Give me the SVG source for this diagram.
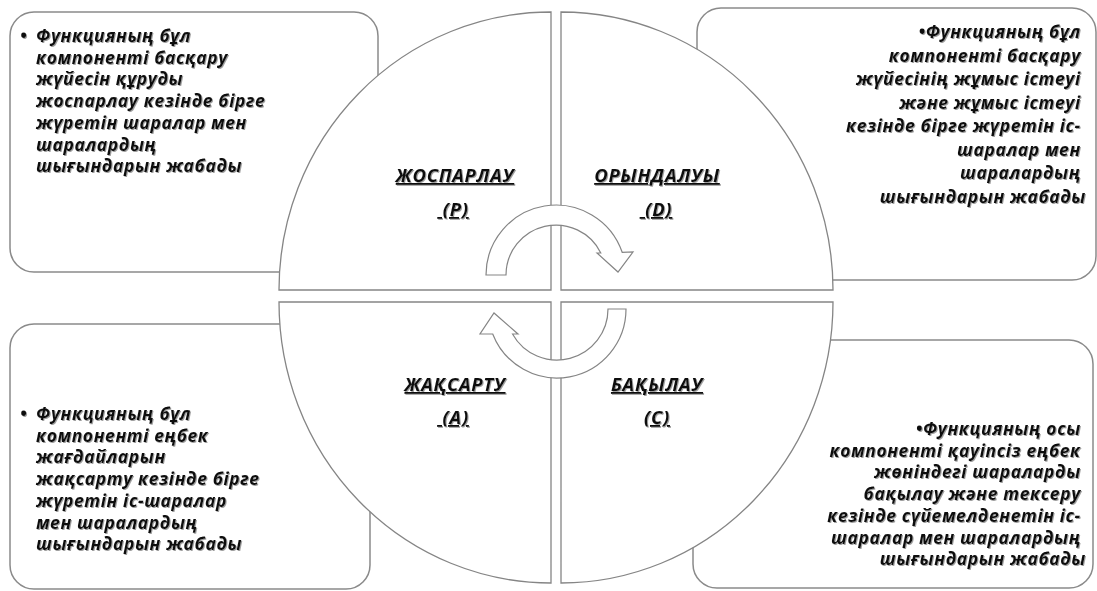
<svg xmlns="http://www.w3.org/2000/svg" width="1097" height="591" viewBox="0 0 1097 591">
<defs>
<filter id="sh" x="-5%" y="-5%" width="110%" height="120%">
<feDropShadow dx="1" dy="1" stdDeviation="0.7" flood-color="#888" flood-opacity="0.8"/>
</filter>
<style>
.box{fill:#fff;stroke:#8a8a8a;stroke-width:1.5}
.q{fill:#fff;stroke:#858585;stroke-width:1.3}
.arr{fill:#fff;stroke:#858585;stroke-width:1.2}
.t{font-family:"Open Sans","Liberation Sans",sans-serif;font-weight:bold;font-style:italic;font-size:17.5px;letter-spacing:0.6px;fill:#111;filter:url(#sh)}
.r{text-anchor:end}
.lab{font-family:"Open Sans","Liberation Sans",sans-serif;font-weight:bold;font-style:italic;font-size:18.5px;letter-spacing:0.7px;fill:#111;text-anchor:middle;text-decoration:underline;filter:url(#sh)}
</style>
</defs>
<rect width="1097" height="591" fill="#fff"/>

<g id="box-plan">
<rect class="box" x="10" y="12" width="368" height="260" rx="24"/>
<text class="t">
<tspan x="20" y="42">•</tspan><tspan x="36" y="42">Функцияның бұл</tspan>
<tspan x="36" y="63.7">компоненті басқару</tspan>
<tspan x="36" y="85.4">жүйесін құруды</tspan>
<tspan x="36" y="107.1">жоспарлау кезінде бірге</tspan>
<tspan x="36" y="128.8">жүретін шаралар мен</tspan>
<tspan x="36" y="150.5">шаралардың</tspan>
<tspan x="36" y="172.2">шығындарын жабады</tspan>
</text>
</g>

<g id="box-do">
<rect class="box" x="697" y="8" width="399" height="272" rx="24"/>
<text class="t r">
<tspan x="1086" y="38">•Функцияның бұл</tspan>
<tspan x="1086" y="61.5">компоненті басқару</tspan>
<tspan x="1086" y="85">жүйесінің жұмыс істеуі</tspan>
<tspan x="1086" y="108.5">және жұмыс істеуі</tspan>
<tspan x="1086" y="132">кезінде бірге жүретін іс-</tspan>
<tspan x="1086" y="155.5">шаралар мен</tspan>
<tspan x="1086" y="179">шаралардың</tspan>
<tspan x="1086" y="202.5">шығындарын жабады</tspan>
</text>
</g>

<g id="box-act">
<rect class="box" x="10" y="324" width="360" height="265" rx="24"/>
<text class="t">
<tspan x="20" y="420">•</tspan><tspan x="36" y="420">Функцияның бұл</tspan>
<tspan x="36" y="441.7">компоненті еңбек</tspan>
<tspan x="36" y="463.4">жағдайларын</tspan>
<tspan x="36" y="485.1">жақсарту кезінде бірге</tspan>
<tspan x="36" y="506.8">жүретін іс-шаралар</tspan>
<tspan x="36" y="528.5">мен шаралардың</tspan>
<tspan x="36" y="550.2">шығындарын жабады</tspan>
</text>
</g>

<g id="box-check">
<rect class="box" x="693" y="340" width="400" height="248" rx="24"/>
<text class="t r">
<tspan x="1086" y="435">•Функцияның осы</tspan>
<tspan x="1086" y="456.7">компоненті қауіпсіз еңбек</tspan>
<tspan x="1086" y="478.4">жөніндегі шараларды</tspan>
<tspan x="1086" y="500.1">бақылау және тексеру</tspan>
<tspan x="1086" y="521.8">кезінде сүйемелденетін іс-</tspan>
<tspan x="1086" y="543.5">шаралар мен шаралардың</tspan>
<tspan x="1086" y="565.2">шығындарын жабады</tspan>
</text>
</g>

<g id="q-plan">
<path class="q" d="M551,290 L279,290 A272,278 0 0 1 551,12 Z"/>
<text class="lab" x="455" y="182">ЖОСПАРЛАУ</text>
<text class="lab" x="453" y="216" xml:space="preserve"> (P)</text>
</g>
<g id="q-do">
<path class="q" d="M561,290 L561,12 A272,278 0 0 1 833,290 Z"/>
<text class="lab" x="657" y="182">ОРЫНДАЛУЫ</text>
<text class="lab" x="656" y="216" xml:space="preserve"> (D)</text>
</g>
<g id="q-act">
<path class="q" d="M551,302 L551,583 A272,281 0 0 1 279,302 Z"/>
<text class="lab" x="455" y="391">ЖАҚСАРТУ</text>
<text class="lab" x="453" y="424" xml:space="preserve"> (A)</text>
</g>
<g id="q-check">
<path class="q" d="M561,302 L833,302 A272,281 0 0 1 561,583 Z"/>
<text class="lab" x="657" y="391">БАҚЫЛАУ</text>
<text class="lab" x="657" y="424">(C)</text>
</g>

<g id="connectors">
<path class="arr" d="M486,275 A70,70 0 0 1 622.2,252.3 L633,252 L618,272 L597,253 L600.8,252.9 A50,50 0 0 0 506,275 Z"/>
<path class="arr" d="M626,309 A69,69 0 0 1 492.7,334 L480,334 L494,313 L518,334 L512.5,334 A51,51 0 0 0 608,309 Z"/>
</g>
</svg>
